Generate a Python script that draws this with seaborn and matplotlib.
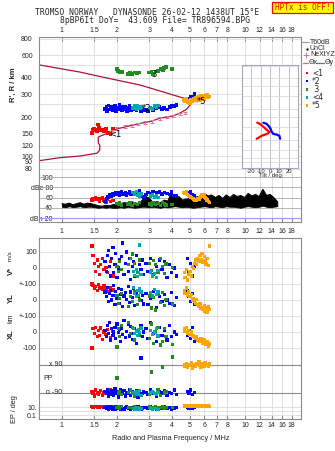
import numpy as np
import pandas as pd
import matplotlib
matplotlib.use('Agg')
import matplotlib.pyplot as plt
import seaborn as sns
from matplotlib.lines import Line2D
from matplotlib.patches import Rectangle
from matplotlib.ticker import NullLocator

# ---------------- data ----------------
freq_ticks = [1, 1.5, 2, 3, 4, 5, 6, 7, 8, 10, 12, 14, 16, 18]
freq_labels = ['1', '1.5', '2', '3', '4', '5', '6', '7', '8', '10', '12', '14', '16', '18']
height_grid = [80, 90, 100, 120, 150, 200, 250, 300, 400, 500, 600, 800]
height_labels = ['80', '90', '100', '120', '150', '200', '', '300', '400', '', '600', '800']
dbe_ticks = [20, 40, 60, 80, 100]
dbe_labels = ['dBn 20', '40', '60', 'dBe 80', '100']

cluster_names = ['1', '2', '3', '4', '5']
cluster_colors = ['#ff0000', '#0000ff', '#228b22', '#00a8a8', '#ffa500']
legend_labels = ['<1', '*2', ' 3', '<4', '*5']

# cluster 1 (red)
c1_freq = [1.46, 1.48, 1.50, 1.53, 1.56, 1.58, 1.60, 1.63, 1.66, 1.70, 1.74, 1.78, 1.84, 1.90]
c1_height = [150, 158, 163, 160, 156, 175, 165, 158, 160, 155, 162, 150, 148, 163]
c1_amp = [55, 58, 57, 60, 56, 58, 52, 58, 60, 55, 50, 57, 52, 54]
c1_vstar = [137, 80, 30, -20, 50, 10, -40, 20, 60, -10, 5, -30, 40, -50]
c1_yl = [100, 90, 70, 85, 60, 95, 75, 80, 65, 88, 70, 55, 78, 62]
c1_xl = [-100, 20, -10, 30, -30, 10, -20, 25, -45, 0, -15, 15, -35, 5]
c1_pp = [-80, -95, -110, -70, -90, -100, -85, -75, -105, -90, -80, -95, -70, -100]
c1_ep = [12, 10, 15, 11, 9, 14, 10, 12, 13, 10, 11, 9, 12, 10]

# cluster 2 (blue)
c2_freq = [1.72, 1.75, 1.77, 1.80, 1.82, 1.85, 1.87, 1.90, 1.92, 1.95, 1.97, 2.00, 2.03, 2.06, 2.09, 2.12,
           2.15, 2.18, 2.22, 2.26, 2.30, 2.34, 2.38, 2.42, 2.46, 2.50, 2.55, 2.60, 2.65, 2.70, 2.75, 2.80,
           2.88, 2.95, 3.05, 3.15, 3.28, 3.40, 3.52, 3.62, 3.75, 3.88, 3.98, 4.10, 4.22,
           4.85, 4.95, 5.05, 5.15, 5.30]
c2_height = [230, 238, 222, 245, 228, 235, 240, 225, 232, 243, 220, 236, 228, 247, 233, 224,
             240, 230, 238, 221, 234, 244, 227, 236, 229, 242, 225, 233, 238, 222, 231, 226,
             228, 222, 235, 226, 232, 238, 230, 236, 228, 240, 245, 242, 248,
             265, 275, 285, 280, 300]
c2_amp = [52, 58, 62, 60, 65, 63, 66, 68, 64, 67, 70, 66, 69, 64, 67, 71,
          68, 66, 70, 65, 68, 72, 67, 69, 70, 66, 71, 68, 73, 65, 62, 60,
          66, 70, 68, 72, 69, 71, 67, 70, 68, 66, 72, 64, 63,
          70, 68, 72, 66, 64]
c2_vstar = [40, -20, 80, 110, 10, -50, 60, 130, -30, 20, 90, -60, 0, 50, -10, 70,
            156, -40, 30, 100, -20, 60, -70, 10, 40, -50, 80, -30, 20, -10, 50, -40,
            30, -20, 60, -40, 10, 50, -10, 40, -60, 20, -30, 0, -50,
            60, -20, 30, -50, 10]
c2_yl = [50, 20, 80, -10, 40, 60, 0, 30, 90, -30, 55, 10, 70, -20, 35, 65,
         -40, 25, 45, 5, 85, -15, 50, 15, 75, -35, 40, 20, 60, -5, 30, -25,
         40, -30, 10, 55, -45, 20, -10, 35, 0, -20, 45, -35, 15,
         60, 20, -10, 40, -30]
c2_xl = [10, -30, 40, -10, 60, -50, 20, -20, 0, 30, -40, 50, -5, 15, -60, 25,
         -15, 70, -35, 5, 45, -25, 35, -45, -10, 20, -70, 10, -20, 40, -30, 0,
         20, -40, 60, -10, -60, 30, -20, 10, -50, 40, -30, 0, -15,
         -20, 10, -40, 30, -60]
c2_pp = [-80, -95, -70, -110, -85, -100, -75, -90, -105, -65, -95, -80, -115, -85, -70, -100,
         -90, -75, -110, -85, -95, -70, -105, -80, -90, -100, -75, -115, -85, 135, -95, -80,
         -85, -100, -70, -95, -110, -80, -90, -75, -105, -85, -95, -70, -100,
         -80, -95, -70, -100, -85]
c2_ep = [8, 4, 12, 3, 6, 15, 5, 2, 9, 7, 3, 11, 4, 6, 2, 10,
         5, 3, 8, 14, 4, 6, 2, 9, 5, 3, 7, 12, 4, 2, 6, 8,
         9, 4, 12, 6, 3, 8, 5, 10, 4, 7, 3, 6, 9,
         8, 6, 10, 5, 7]

# cluster 3 (green)
c3_freq = [2.00, 2.03, 2.07, 2.12, 2.30, 2.36, 2.42, 2.50, 2.58, 2.65, 3.00, 3.08, 3.15, 3.25, 3.35, 3.45,
           3.55, 3.62, 3.70, 4.00]
c3_height = [470, 455, 440, 445, 430, 438, 428, 440, 435, 442, 440, 445, 432, 450, 455, 470, 462, 478, 485, 470]
c3_amp = [48, 46, 50, 45, 47, 49, 44, 48, 46, 50, 47, 45, 49, 46, 48, 44, 50, 47, 45, 46]
c3_vstar = [10, -20, 40, -10, 20, 60, 87, 30, -30, 50, 30, -15, 45, 20, -25, 60, 10, -35, 25, 5]
c3_yl = [30, -20, 10, 40, -40, 20, -10, 50, -30, 0, 25, -50, 15, -62, 35, -15, 45, -35, 5, -25]
c3_xl = [-94, 20, -30, 40, 60, -10, 30, -50, 10, -20, -40, 50, -70, 0, 30, -81, -60, 20, -30, -80]
c3_pp = [6, -90, -80, -100, -85, -70, -95, -110, -90, -75, -100, 45, -85, -95, -70, -105, 77, -90, -80, 141]
c3_ep = [8, 10, 6, 12, 7, 9, 5, 11, 8, 6, 10, 7, 9, 12, 6, 8, 10, 5, 9, 7]

# cluster 4 (teal)
c4_freq = [2.45, 2.50, 2.55, 2.58, 2.62, 2.66, 2.70, 3.05, 3.12, 3.20, 3.28, 3.35]
c4_height = [235, 242, 230, 245, 238, 232, 240, 236, 230, 242, 238, 245]
c4_amp = [70, 66, 72, 64, 68, 62, 67, 63, 65, 61, 64, 60]
c4_vstar = [-20, -45, -10, -55, -30, 143, -40, -25, -50, -35, -60, -15]
c4_yl = [80, 40, 20, 60, 30, 70, 50, 45, 25, 65, 35, 55]
c4_xl = [20, -10, 5, -20, 15, -5, 25, 10, -15, 0, 20, -25]
c4_pp = [-85, -95, -80, -100, -90, -75, -105, -90, -80, -95, -100, -85]
c4_ep = [4, 3, 6, 2, 5, 3, 4, 6, 3, 5, 4, 2]

# cluster 5 (orange)
c5_freq = [4.65, 4.70, 4.78, 4.85, 4.92, 5.00, 5.08, 5.15, 5.22, 5.30, 5.38, 5.45, 5.52, 5.60, 5.68, 5.75,
           5.82, 5.90, 5.98, 6.05, 6.12, 6.20, 6.30, 6.40]
c5_height = [270, 265, 275, 262, 268, 258, 272, 265, 278, 270, 282, 268, 275, 285, 272, 290,
             280, 288, 276, 292, 285, 295, 283, 288]
c5_amp = [70, 68, 72, 66, 64, 62, 60, 58, 57, 55, 56, 54, 58, 56, 60, 62, 65, 63, 66, 60, 58, 55, 52, 50]
c5_vstar = [-30, -60, -10, -75, -40, -20, -50, 10, -5, 30, 50, 20, 60, 40, 80, 55, 90, 35, 70, 45, 25, 60, 15, 137]
c5_yl = [60, 40, 75, 30, 50, 20, 35, 0, 10, -10, -20, 5, -30, -40, -25, -55, -45, -60, -35, -70, -50, -75, -40, -60]
c5_xl = [20, 5, 30, -10, 10, -15, 0, -25, -20, -35, -40, -30, -50, -45, -60, -40, -55, -70, -50, -65, -80, -60, -90, -75]
c5_pp = [95, 80, 100, 75, 90, 85, 105, 70, 95, 88, 78, 100, 92, 110, 85, 75, 98, 90, 82, 105, 88, 95, 80, 100]
c5_ep = [15, 20, 12, 25, 18, 14, 22, 16, 20, 13, 24, 17, 19, 15, 21, 14, 23, 18, 16, 20, 12, 17, 22, 15]

# profiles
upper_freq = [0.75, 1.0, 1.25, 1.5, 1.95, 2.67, 3.03, 3.5, 4.04, 4.8, 5.1, 5.5]
upper_height = [505, 470, 445, 420, 388, 353, 335, 315, 296, 275, 268, 262]
lower_freq = [0.75, 0.97, 1.25, 1.55, 1.61, 1.61, 1.58, 1.58, 1.65, 1.83, 2.0, 2.6, 3.1, 3.43, 4.04,
              4.4, 4.8, 5.1, 5.3]
lower_height = [92, 97, 100, 105, 111, 121, 126, 140, 144, 152, 162, 177, 186, 196, 204,
                214, 230, 255, 272]
nxyz_freq = [1.87, 2.0, 2.21, 2.4, 2.6, 2.85, 3.1, 3.43, 3.75, 4.04, 4.4, 4.7]
nxyz_height = [156, 162, 168, 172, 177, 182, 186, 196, 200, 204, 211, 215]

# tilt
tiltx_deg = [-13.7, -10.8, -7.2, -4.3, -0.8, -1.8, -5.4, -8.9, -12.6, -14.3]
tiltx_height = [220, 214, 201, 190, 179, 173, 168, 164, 156, 153]
tilty_deg = [-7.2, -3.5, -0.8, 0.8, 1.8, 3.5, 7.2, 10.0, 10.8]
tilty_height = [220, 214, 201, 190, 179, 171, 168, 164, 153]

# noise (dBn) envelope sampled on a log frequency grid 1..15 MHz
noise_freq = np.geomspace(1.0, 15.0, 60)
noise_hi = [48, 47, 49, 46, 48, 50, 47, 49, 48, 46,
            44, 43, 45, 44, 46, 47,
            48, 50, 49, 52, 50, 48, 55,
            62, 58, 50, 52,
            50, 55, 53, 70,
            58, 62, 55, 57,
            58, 56, 62, 60,
            68, 63, 65, 60,
            64, 58, 65, 60,
            66, 62, 64, 60,
            68, 63, 66, 62,
            76, 64, 66,
            60, 52]
noise_lo = [42, 41, 43, 41, 42, 43, 41, 42, 42, 41,
            40, 41, 40, 41, 40, 40,
            41, 40, 42, 41, 40, 41, 42,
            42, 41, 42, 41,
            40, 42, 41, 42,
            43, 42, 41, 42,
            41, 40, 41, 42,
            43, 42, 41, 43,
            42, 41, 43, 42,
            42, 41, 40, 42,
            43, 42, 41, 42,
            44, 42, 41,
            42, 43]

# ---------------- build tables ----------------
def cluster_frame(cid, f, h, a, v, yl, xl, pp, ep):
    return pd.DataFrame(dict(cluster=cid, freq=f, height=h, amp=a, vstar=v, yl=yl, xl=xl, pp=pp, ep=ep))

echoes = pd.concat([
    cluster_frame('1', c1_freq, c1_height, c1_amp, c1_vstar, c1_yl, c1_xl, c1_pp, c1_ep),
    cluster_frame('2', c2_freq, c2_height, c2_amp, c2_vstar, c2_yl, c2_xl, c2_pp, c2_ep),
    cluster_frame('3', c3_freq, c3_height, c3_amp, c3_vstar, c3_yl, c3_xl, c3_pp, c3_ep),
    cluster_frame('4', c4_freq, c4_height, c4_amp, c4_vstar, c4_yl, c4_xl, c4_pp, c4_ep),
    cluster_frame('5', c5_freq, c5_height, c5_amp, c5_vstar, c5_yl, c5_xl, c5_pp, c5_ep),
], ignore_index=True)
pal = dict(zip(cluster_names, cluster_colors))

# composite strip coordinate for the lower panel (offsets of each sub-strip)
strips = []
for col, base, scale in [('vstar', 151, 0.16), ('yl', 119, 0.16), ('xl', 87, 0.16), ('pp', 40, 0.1556)]:
    d = echoes[['cluster', 'freq']].copy()
    d['u'] = base + scale * echoes[col]
    strips.append(d)
d = echoes[['cluster', 'freq']].copy()
d['u'] = 8 + 4 * np.log10(echoes['ep'])
strips.append(d)
strip_df = pd.concat(strips, ignore_index=True)

# ---------------- figure ----------------
sns.set_style('white')
plt.rcParams['font.family'] = ['Liberation Sans', 'DejaVu Sans']
plt.rcParams['axes.unicode_minus'] = False

W, H = 335, 451
fig = plt.figure(figsize=(W / 100, H / 100), dpi=100)
fig.patch.set_facecolor('white')

def rect(x0, y0, x1, y1):
    return [x0 / W, 1 - y1 / H, (x1 - x0) / W, (y1 - y0) / H]

def fx(px):
    return px / W

def fy(py):
    return 1 - py / H

GRID = '#dcdcdc'
SPINE = '#8a8a8a'
PROF = '#a8143c'
XL = (0.75, 20.2)

def style_freq_axis(ax):
    ax.set_xscale('log')
    ax.set_xlim(*XL)
    ax.set_xticks(freq_ticks)
    ax.set_xticklabels(freq_labels)
    ax.xaxis.set_minor_locator(NullLocator())
    ax.xaxis.grid(True, color=GRID, lw=0.6)
    for s in ax.spines.values():
        s.set_color(SPINE)
        s.set_linewidth(0.8)

# ---- panel 1: heights ----
ax1 = fig.add_axes(rect(39, 36.5, 301, 172))
style_freq_axis(ax1)
ax1.set_yscale('log')
ax1.set_ylim(75.3, 836)
ax1.set_yticks(height_grid)
ax1.set_yticklabels(height_labels)
ax1.yaxis.set_minor_locator(NullLocator())
ax1.yaxis.grid(True, color=GRID, lw=0.6)
ax1.spines['bottom'].set_visible(False)
ax1.tick_params(axis='x', which='both', top=True, bottom=False, labeltop=True, labelbottom=False,
                direction='in', length=3, color=SPINE, pad=1.5, labelsize=5)
ax1.tick_params(axis='y', length=0, pad=4.5, labelsize=5)

sns.lineplot(x=upper_freq, y=upper_height, sort=False, estimator=None, color=PROF, lw=0.9, ax=ax1, zorder=2)
sns.lineplot(x=lower_freq, y=lower_height, sort=False, estimator=None, color=PROF, lw=0.9, ax=ax1, zorder=2)
nx = np.array(nxyz_height)
ax1.errorbar(nxyz_freq, nxyz_height, yerr=[nx * 0.025, nx * 0.025], fmt='none', ecolor='#e0709a',
             elinewidth=0.7, capsize=1.3, capthick=0.7, zorder=3)
sns.scatterplot(data=echoes, x='freq', y='height', hue='cluster', palette=pal, marker='s', s=7,
                linewidth=0, legend=False, ax=ax1, zorder=4)
for lab, fq, hh in [('<1', 1.80, 146), ('*2', 2.72, 232), ('3', 3.08, 428), ('*5', 5.42, 262)]:
    ax1.text(fq, hh, lab, fontsize=6, color='black', va='center', ha='left', zorder=5,
             family='DejaVu Sans')
ax1.set_xlabel('')
ax1.set_ylabel('')

# ---- panel 2: amplitudes ----
ax2 = fig.add_axes(rect(39, 172, 301, 222))
style_freq_axis(ax2)
ax2.set_ylim(12.2, 109.8)
ax2.set_yticks(dbe_ticks)
ax2.set_yticklabels(dbe_labels)
ax2.spines['top'].set_visible(False)
ax2.tick_params(axis='x', which='both', bottom=True, top=False, labelbottom=True, direction='in',
                length=3, color=SPINE, pad=4, labelsize=5)
ax2.tick_params(axis='y', length=0, pad=-10, labelsize=5)
for t in ax2.get_yticklabels():
    t.set_horizontalalignment('right')
for yv in dbe_ticks:
    ax2.axhline(yv, color='#a0a0ff' if yv == 20 else '#a8a8a8', lw=0.9 if yv == 20 else 0.6, zorder=1)
ax2.fill_between(noise_freq, noise_lo, noise_hi, color='black', lw=0.6, zorder=2)
sns.lineplot(x=noise_freq, y=noise_hi, color='black', lw=0.7, ax=ax2, zorder=2)
sns.scatterplot(data=echoes, x='freq', y='amp', hue='cluster', palette=pal, marker='s', s=6,
                linewidth=0, legend=False, ax=ax2, zorder=4)
ax2.set_xlabel('')
ax2.set_ylabel('')

# ---- panel 3: V*, YL, XL, PP, EP strips ----
ax3 = fig.add_axes(rect(39, 237.7, 301, 419))
style_freq_axis(ax3)
ax3.set_ylim(0, 181.3)
strip_ticks = [4, 12, 71, 87, 103, 119, 135, 151, 167]
strip_labels = ['0.1', '10.', '-100', '0', '+-100', '0', '+-100', '0', '100']
ax3.set_yticks(strip_ticks)
ax3.set_yticklabels(strip_labels)
ax3.yaxis.grid(True, color=GRID, lw=0.6)
for yv in [54, 26]:
    ax3.axhline(yv, color='#8c8c8c', lw=0.8, zorder=1)
ax3.axhline(8, color=GRID, lw=0.6, zorder=1)
ax3.tick_params(axis='x', which='both', bottom=True, top=False, direction='in', length=3,
                color=SPINE, pad=2.5, labelsize=5)
ax3.tick_params(axis='y', length=0, pad=1.5, labelsize=5)
sns.scatterplot(data=strip_df, x='freq', y='u', hue='cluster', palette=pal, marker='s', s=5.5,
                linewidth=0, legend=False, ax=ax3, zorder=4)
ax3.set_xlabel('')
ax3.set_ylabel('')
tr = ax3.get_yaxis_transform()
ax3.text((62 - 39) / 262, 54, 'x 90', transform=tr, ha='right', va='center', fontsize=5)
ax3.text((62 - 39) / 262, 26, 'o -90', transform=tr, ha='right', va='center', fontsize=5)
ax3.text((43 - 39) / 262, 40, 'PP', transform=tr, ha='left', va='center', fontsize=5)

# ---- tilt inset ----
axi = fig.add_axes(rect(242, 65.5, 298, 167.5))
axi.set_facecolor('white')
axi.set_xlim(-30, 30)
axi.set_yscale('log')
axi.set_ylim(81.5, 499)
axi.set_xticks([-20, -10, 0, 10, 20])
axi.set_xticklabels(['-20', '-10', '0', '10', '20'])
axi.set_yticks(height_grid)
axi.set_yticklabels([])
axi.yaxis.set_minor_locator(NullLocator())
axi.xaxis.grid(True, color='#b4b4cc', lw=0.6)
axi.yaxis.grid(True, color=GRID, lw=0.6)
axi.tick_params(axis='both', length=0, pad=0.8, labelsize=4.2)
for s in axi.spines.values():
    s.set_color('#a8a8c4')
    s.set_linewidth(0.8)
sns.lineplot(x=tiltx_deg, y=tiltx_height, sort=False, estimator=None, color='#ff0000', lw=1.6, ax=axi)
sns.lineplot(x=tilty_deg, y=tilty_height, sort=False, estimator=None, color='#0000ff', lw=1.6, ax=axi)
axi.set_xlabel('')
axi.set_ylabel('')
fig.text(fx(270), fy(175.5), 'Tilt / deg', ha='center', va='center', fontsize=4.3)

# ---- axis labels ----
fig.text(fx(13), fy(85), "R', R / km", rotation=90, ha='center', va='center', fontsize=5.5, weight='bold')
fig.text(fx(11), fy(271), 'V*', rotation=90, ha='center', va='center', fontsize=5.5, weight='bold')
fig.text(fx(11), fy(263), ' m/s', rotation=90, ha='center', va='bottom', fontsize=4.5)
fig.text(fx(11), fy(298.5), 'YL', rotation=90, ha='center', va='center', fontsize=5.5, weight='bold')
fig.text(fx(11), fy(318.5), 'km', rotation=90, ha='center', va='center', fontsize=5)
fig.text(fx(11), fy(334), 'XL', rotation=90, ha='center', va='center', fontsize=5.5, weight='bold')
fig.text(fx(14), fy(409), 'EP / deg', rotation=90, ha='center', va='center', fontsize=5.3)
fig.text(fx(170.5), fy(439), 'Radio and Plasma Frequency / MHz', ha='center', va='center', fontsize=5.3)

# ---- header ----
mono = 'DejaVu Sans Mono'
fig.text(fx(35), fy(12.5), 'TROMSO NORWAY   DYNASONDE 26-02-12 1438UT 15°E', family=mono,
         fontsize=5.8, ha='left', va='center')
fig.text(fx(60), fy(20.5), '8pBP6It DoY=  43.609 File= TR896594.BPG', family=mono,
         fontsize=5.8, ha='left', va='center')
fig.add_artist(Rectangle((fx(272), fy(12.5)), 61 / W, 10.5 / H, transform=fig.transFigure,
                         facecolor='#ffff00', edgecolor='#ff0000', lw=0.9))
fig.text(fx(302.5), fy(7.3), 'HPTx is OFF!', family=mono, fontsize=5.6, color='#ff0000',
         ha='center', va='center')

# ---- legend (right margin) ----
def fline(x0, x1, y, color, lw=0.9):
    fig.add_artist(Line2D([fx(x0), fx(x1)], [fy(y), fy(y)], transform=fig.transFigure, color=color, lw=lw))

fline(302, 309, 42, '#a0a0a0')
fig.text(fx(310), fy(42), 'T60dB', fontsize=5, va='center', ha='left')
fig.add_artist(Line2D([fx(306.5)], [fy(48.5)], transform=fig.transFigure, marker='.', color='black', ms=1.5))
fig.text(fx(310), fy(48.5), 'UnCl', fontsize=5, va='center', ha='left')
fig.add_artist(Line2D([fx(306)], [fy(55)], transform=fig.transFigure, marker='+', color='#e0709a', ms=4, mew=0.7))
fig.text(fx(310), fy(55), 'NeXtYZ', fontsize=5, va='center', ha='left')
fline(303, 308, 63, '#ff6060')
fig.text(fx(308.5), fy(63), 'Θx', fontsize=5, va='center', ha='left')
fline(316, 324, 63, '#6060ff')
fig.text(fx(324.5), fy(63), 'Θy', fontsize=5, va='center', ha='left')
for i, (lab, col) in enumerate(zip(legend_labels, cluster_colors)):
    yy = [73, 81, 89.5, 97.5, 105.5][i]
    fig.add_artist(Rectangle((fx(305.5), fy(yy + 1.3)), 2.6 / W, 2.6 / H, transform=fig.transFigure,
                             facecolor=col, edgecolor='none'))
    fig.text(fx(312), fy(yy), lab, fontsize=5.5, va='center', ha='left', family='DejaVu Sans')

fig.savefig('out.png', dpi=100, facecolor='white')
